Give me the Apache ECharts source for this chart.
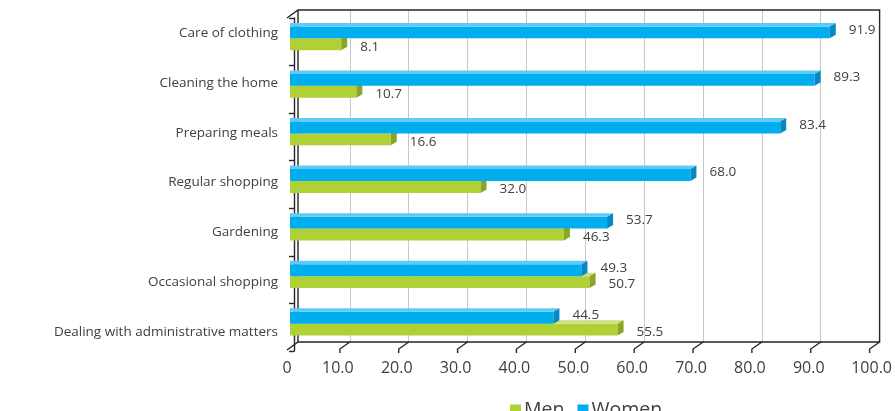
<!DOCTYPE html>
<html><head><meta charset="utf-8">
<script src="https://cdn.jsdelivr.net/npm/echarts@6/dist/echarts.min.js"></script>
<style>html,body{margin:0;padding:0;background:#fff}#c{width:895px;height:411px}</style>
</head><body><div id="c"></div>
<script>
const categories = ['Care of clothing','Cleaning the home','Preparing meals','Regular shopping','Gardening','Occasional shopping','Dealing with administrative matters'];
const men = [8.1, 10.7, 16.6, 32.0, 46.3, 50.7, 55.5];
const women = [91.9, 89.3, 83.4, 68.0, 53.7, 49.3, 44.5];
const tickLabels = ['0','10.0','20.0','30.0','40.0','50.0','60.0','70.0','80.0','90.0','100.0'];
const seriesNames = ['Men','Women'];

const FONT = '"Open Sans", "Noto Sans", sans-serif';
const TXT = '#404040';
const LINE = '#262626';
const GREEN = {front:'#AFD136', top:'#CBE17E', side:'#8AA628'};
const BLUE = {front:'#00ADEF', top:'#5FCBF4', side:'#0589C0'};

function barRender(col, upper){
  return function(params, api){
    const v = api.value(0), c = api.value(1);
    const end = api.coord([v, c]);
    const start = api.coord([0, c]);
    const band = api.size([0, 1])[1];
    const h = band * 0.25;
    const dx = 6, dy = -3.5;
    const xs = start[0] - 4, xe = end[0];
    const mid = end[1] - 3.5;
    const yT = upper ? mid - h : mid;
    return {type:'group', children:[
      {type:'rect', shape:{x:xs, y:yT, width:xe-xs, height:h}, style:{fill:col.front}},
      {type:'polygon', shape:{points:[[xs,yT],[xe,yT],[xe+dx,yT+dy],[xs,yT+dy]]}, style:{fill:col.top}},
      {type:'polygon', shape:{points:[[xe,yT],[xe+dx,yT+dy],[xe+dx,yT+dy+h],[xe,yT+h]]}, style:{fill:col.side}},
      {type:'text', style:{text:v.toFixed(1), x:xe+19, y:yT+h/2+(upper?-2.5:2.5), align:'left', verticalAlign:'middle', fontSize:13.5, fontFamily:FONT, fill:TXT}}
    ]};
  };
}

function frameRender(params, api){
  const cs = params.coordSys;
  const L = cs.x + 7, R = cs.x + cs.width, T = cs.y, B = cs.y + cs.height;
  const ls = {stroke:LINE, lineWidth:1.4, fill:null};
  const ch = [
    {type:'polyline', shape:{points:[[L-11,T+8],[L,T],[R,T],[R,B],[L,B],[L,T]]}, style:ls},
    {type:'line', shape:{x1:L, y1:B, x2:L-11, y2:B+8}, style:ls}
  ];
  for (let i = 1; i < tickLabels.length; i++){
    const xb = api.coord([i*10, 0])[0];
    ch.push({type:'polyline', shape:{points:[[xb,B],[xb-10,B+7],[xb-10,B+11]]}, style:ls});
  }
  return {type:'group', children:ch};
}

const chart = echarts.init(document.getElementById('c'));
chart.setOption({
  animation:false,
  backgroundColor:'#fff',
  textStyle:{fontFamily:FONT},
  grid:[
    {left:291, right:7, top:10, bottom:69},
    {left:294, right:18, top:18, bottom:60},
    {left:294, right:18, top:8.6, bottom:54.4}
  ],
  xAxis:[
    {gridIndex:0, type:'value', min:0, max:100, interval:10,
     axisLine:{show:false}, axisTick:{show:false},
     splitLine:{show:true, showMinLine:false, showMaxLine:false, lineStyle:{color:'#C8C8C8', width:1}},
     axisLabel:{margin:18, fontSize:16, color:TXT, fontFamily:FONT, hideOverlap:false,
       formatter:function(val){
         const i = Math.round(val/10); const t = tickLabels[i];
         return i===0 ? '{z|'+t+'}' : (i===10 ? '{h|'+t+'}' : '{n|'+t+'}');
       },
       rich:{
         z:{padding:[0,8,0,0], fontSize:16, color:TXT, fontFamily:FONT},
         n:{padding:[0,24,0,0], fontSize:16, color:TXT, fontFamily:FONT},
         h:{padding:[0,16,0,0], fontSize:16, color:TXT, fontFamily:FONT}
       }}},
    {gridIndex:1, type:'value', min:0, max:100, show:false},
    {gridIndex:2, type:'value', min:0, max:100, show:false}
  ],
  yAxis:[
    {gridIndex:0, type:'value', min:0, max:1, show:false},
    {gridIndex:1, type:'category', data:categories, inverse:true, offset:7,
     axisLine:{show:true, lineStyle:{color:LINE, width:1.4}},
     axisTick:{show:true, length:5, lineStyle:{color:LINE, width:1.4}},
     axisLabel:{show:false},
     splitLine:{show:false}},
    {gridIndex:2, type:'category', data:categories, inverse:true, offset:7,
     axisLine:{show:false}, axisTick:{show:false},
     axisLabel:{margin:9, fontSize:13.5, color:TXT, fontFamily:FONT},
     splitLine:{show:false}}
  ],
  legend:{data:seriesNames, left:510, top:400, padding:0, icon:'rect', itemWidth:11, itemHeight:11, itemGap:13,
    textStyle:{fontSize:19.5, color:TXT, fontFamily:FONT, padding:[0,0,0,-2]}},
  series:[
    {type:'custom', name:'frame', xAxisIndex:0, yAxisIndex:0, data:[[0,0]], renderItem:frameRender, silent:true, z:1, clip:false},
    {type:'custom', name:seriesNames[0], xAxisIndex:1, yAxisIndex:1, itemStyle:{color:GREEN.front},
     data:men.map((v,i)=>[v,i]), renderItem:barRender(GREEN,false), z:3, clip:false},
    {type:'custom', name:seriesNames[1], xAxisIndex:1, yAxisIndex:1, itemStyle:{color:BLUE.front},
     data:women.map((v,i)=>[v,i]), renderItem:barRender(BLUE,true), z:4, clip:false}
  ]
});
</script></body></html>
